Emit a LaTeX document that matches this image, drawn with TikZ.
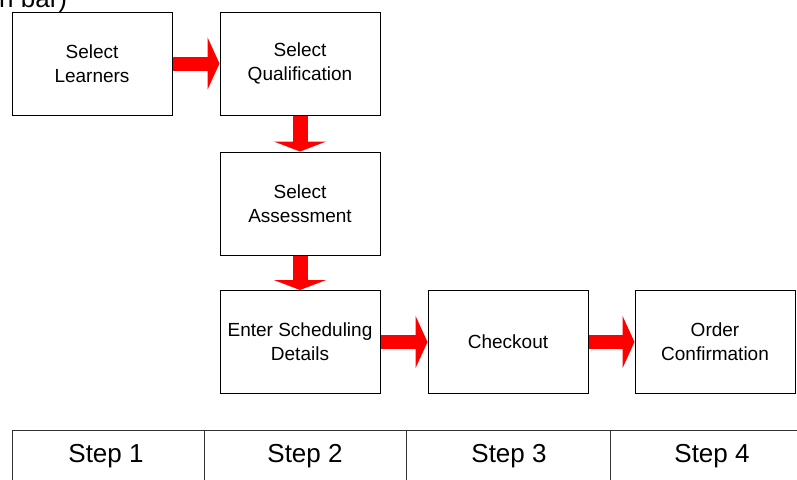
\documentclass[tikz,border=0pt]{standalone}
\usepackage{fontspec}
\setmainfont{Liberation Sans}
\usetikzlibrary{arrows.meta}
\begin{document}
\begin{tikzpicture}[x=1pt,y=-1pt,
  stepbox/.style={draw=black,line width=1pt,rectangle,minimum width=160pt,minimum height=103pt,
    align=center,font=\fontsize{19}{24}\selectfont,inner sep=0pt},
  harrow/.style={draw=red,line width=14pt,-{Triangle[width=52pt,length=12pt]},red},
  varrow/.style={draw=red,line width=15pt,-{Triangle[width=52pt,length=10pt]},red},
  tabline/.style={draw=black!80,line width=1pt},
  steplabel/.style={font=\fontsize{26}{30}\selectfont,inner sep=0pt}]
\useasboundingbox (0,0) rectangle (797,479);
\fill[white] (0,0) rectangle (797,479);
\node[anchor=base west,inner sep=0pt,font=\fontsize{26}{30}\selectfont] (cut) at (-1,8) {n bar)};
\node[stepbox] (b1) at (92,63.5) {Select\\Learners};
\node[stepbox] (b2) at (300,63.5) {Select\\Qualification};
\node[stepbox] (b3) at (300,203.5) {Select\\Assessment};
\node[stepbox] (b4) at (300,342) {Enter Scheduling\\Details};
\node[stepbox] (b5) at (508,342) {Checkout};
\node[stepbox] (b6) at (715,342) {Order\\Confirmation};
\draw[harrow] (b1) -- (b2);
\draw[varrow] (b2) -- (b3);
\draw[varrow] (b3) -- (b4);
\draw[harrow] (b4) -- (b5);
\draw[harrow] (b5) -- (b6);
\coordinate (t0) at (12,430);
\coordinate (t0b) at (12,485);
\coordinate (tr) at (800,430);
\draw[tabline] (t0b) -- (t0) -- (tr);
\foreach \xx in {204,406,610} {
  \coordinate (ta) at (\xx,430);
  \coordinate (tb) at (\xx,485);
  \draw[tabline] (ta) -- (tb);
}
\node[steplabel] (s1) at (106,456) {Step 1};
\node[steplabel] (s2) at (305,456) {Step 2};
\node[steplabel] (s3) at (509,456) {Step 3};
\node[steplabel] (s4) at (712,456) {Step 4};
\end{tikzpicture}
\end{document}
